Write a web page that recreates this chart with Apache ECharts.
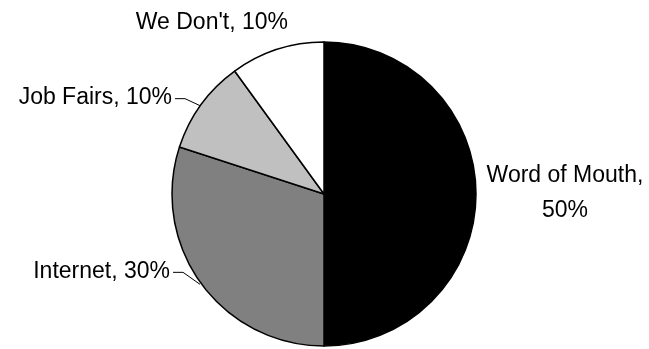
<!DOCTYPE html>
<html>
<head>
<meta charset="utf-8">
<script src="https://cdn.jsdelivr.net/npm/echarts@6/dist/echarts.min.js"></script>
<style>
  html, body { margin: 0; padding: 0; background: #ffffff; }
  #chart { width: 649px; height: 349px; }
</style>
</head>
<body>
<div id="chart"></div>
<script>
// Recruiting channels, share of hires (%)
const categories = ['Word of Mouth', 'Internet', 'Job Fairs', "We Don't"];
const shares = [50, 30, 10, 10];
const sliceColors = ['#000000', '#808080', '#c0c0c0', '#ffffff'];

// Pie geometry (pixels)
const CX = 324, CY = 194, R = 152;

// Label placement relative to each slice's outer mid-point
const placements = [
  { dx: 89, dy: -1, align: 'center', line: false },
  { dx: -31, dy: -12, align: 'right', line: true },
  { dx: -29, dy: -7, align: 'right', line: true },
  { dx: 11, dy: -27, align: 'right', line: false }
];

const total = shares.reduce((a, b) => a + b, 0);

function anchorOf(i) {
  let before = 0;
  for (let k = 0; k < i; k++) before += shares[k];
  const theta = 2 * Math.PI * (before + shares[i] / 2) / total;
  return [CX + R * Math.sin(theta), CY - R * Math.cos(theta)];
}

const chart = echarts.init(document.getElementById('chart'), null, { renderer: 'canvas' });

chart.setOption({
  animation: false,
  backgroundColor: '#ffffff',
  series: [{
    type: 'pie',
    center: [CX, CY],
    radius: R,
    startAngle: 90,
    clockwise: true,
    avoidLabelOverlap: false,
    itemStyle: { borderColor: '#000000', borderWidth: 1.5 },
    label: {
      show: true,
      position: 'outside',
      color: '#000000',
      fontFamily: 'Liberation Sans, Arial, sans-serif',
      fontSize: 23,
      lineHeight: 35,
      formatter: p => p.dataIndex === 0
        ? p.name + ',\n' + p.value + '%'
        : p.name + ', ' + p.value + '%'
    },
    labelLine: {
      show: true,
      lineStyle: { color: '#000000', width: 1 }
    },
    labelLayout: params => {
      const i = params.dataIndex;
      const pl = placements[i];
      const [ax, ay] = anchorOf(i);
      const out = {
        x: ax + pl.dx,
        y: ay + pl.dy,
        align: pl.align,
        verticalAlign: 'middle'
      };
      if (pl.line) {
        const sx = ax + pl.dx + 3;
        const sy = ay + pl.dy + 1;
        out.labelLinePoints = [[sx, sy], [sx + 10, sy], [ax - 1, ay + 1]];
      }
      return out;
    },
    data: categories.map((name, i) => ({
      name: name,
      value: shares[i],
      itemStyle: { color: sliceColors[i] },
      labelLine: { show: placements[i].line }
    }))
  }]
});
</script>
</body>
</html>
